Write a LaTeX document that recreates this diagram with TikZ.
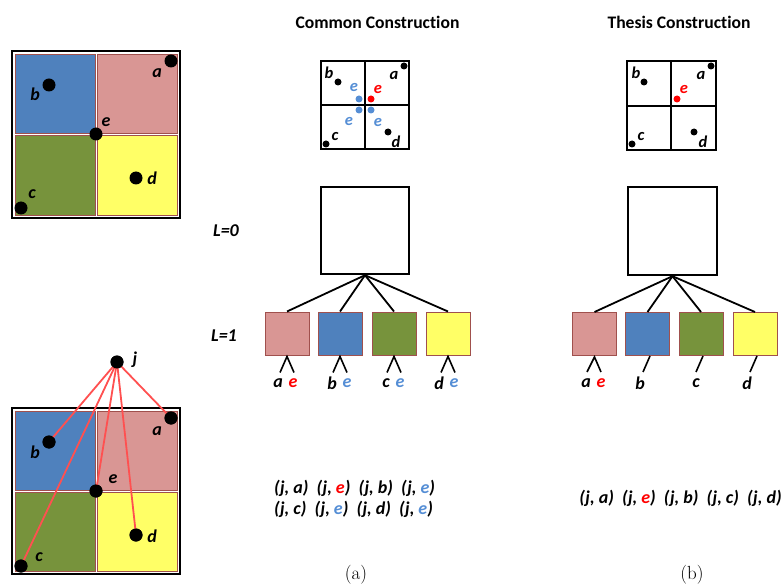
\documentclass[tikz,border=0pt]{standalone}
\usepackage{fontspec}
\newfontfamily\carl[Ligatures=NoCommon]{Carlito}
\definecolor{qblue}{HTML}{4F81BD}
\definecolor{qpink}{HTML}{D99694}
\definecolor{qgreen}{HTML}{77933C}
\definecolor{qyellow}{HTML}{FFFF66}
\definecolor{qedge}{HTML}{A0504D}
\definecolor{eblue}{HTML}{558ED5}
\definecolor{ered}{HTML}{FF0000}
\definecolor{jline}{HTML}{FF5050}
\tikzset{
  dotbig/.style={circle,fill=black,inner sep=0pt,minimum size=13pt},
  dotsmall/.style={circle,fill=#1,inner sep=0pt,minimum size=7pt},
  dotsmall/.default=black,
  lab/.style={font=\carl\bfseries\itshape\fontsize{18}{18}\selectfont,inner sep=0pt},
  slab/.style={font=\carl\bfseries\itshape\fontsize{16.5}{16.5}\selectfont,inner sep=0pt},
  titletext/.style={font=\carl\bfseries\fontsize{17.6}{17.6}\selectfont,inner sep=0pt},
  captext/.style={font=\fontsize{19}{19}\selectfont,inner sep=0pt},
  quad/.style={draw=qedge,line width=0.8pt},
  outerbox/.style={draw=black,line width=2.6pt},
  gridline/.style={draw=black,line width=1.8pt},
  rootbox/.style={draw=black,line width=2.4pt,minimum width=88pt,minimum height=87pt,inner sep=0pt},
  childbox/.style={draw=qedge,line width=1pt,minimum width=44pt,minimum height=43pt,inner sep=0pt},
  conn/.style={draw=black,line width=1.8pt},
  jl/.style={draw=jline,line width=1.8pt}
}
\begin{document}
\begin{tikzpicture}[x=1pt,y=-1pt]
\useasboundingbox (0,0) rectangle (784,585);
% ---------- top-left square ----------
\draw[outerbox] (12,51) rectangle (180,218);
\filldraw[quad,fill=qblue] (15,54) rectangle (95,133);
\filldraw[quad,fill=qpink] (97,54) rectangle (177,133);
\filldraw[quad,fill=qgreen] (15,135) rectangle (95,215);
\filldraw[quad,fill=qyellow] (97,135) rectangle (177,215);
\node[dotbig] (ta) at (171,61) {};
\node[dotbig] (tb) at (49,85) {};
\node[dotbig] (te) at (96,134) {};
\node[dotbig] (td) at (136,178) {};
\node[dotbig] (tc) at (21,208) {};
\node[lab] (tal) at (157,73) {a};
\node[lab] (tbl) at (35,94) {b};
\node[lab] (tel) at (106,122) {e};
\node[lab] (tdl) at (152,178) {d};
\node[lab] (tcl) at (32,194) {c};
% ---------- bottom-left square ----------
\draw[outerbox] (12,408) rectangle (180,574);
\filldraw[quad,fill=qblue] (15,411) rectangle (95,490);
\filldraw[quad,fill=qpink] (97,411) rectangle (177,490);
\filldraw[quad,fill=qgreen] (15,492) rectangle (95,571);
\filldraw[quad,fill=qyellow] (97,492) rectangle (177,571);
\node[dotbig] (bj) at (117,362) {};
\node[dotbig] (ba) at (171,418) {};
\node[dotbig] (bb) at (49,442) {};
\node[dotbig] (be) at (96,491) {};
\node[dotbig] (bd) at (136,535) {};
\node[dotbig] (bc) at (21,566) {};
\foreach \t in {ba,bb,be,bd,bc} \draw[jl] (bj.center) -- (\t.center);
\foreach \t in {bj,ba,bb,be,bd,bc} \node[dotbig] at (\t) {};
\node[lab] (bjl) at (135,360) {j};
\node[lab] (bal) at (157,431) {a};
\node[lab] (bbl) at (35,452) {b};
\node[lab] (bel) at (113,479) {e};
\node[lab] (bdl) at (152,536) {d};
\node[lab] (bcl) at (39,557) {c};
% ---------- titles ----------
\node[titletext] (t1) at (377.5,22) {Common Construction};
\node[titletext] (t2) at (679,22) {Thesis Construction};
% ---------- common grid ----------
\draw[gridline] (321,61) rectangle (409,149);
\draw[gridline] (365,61) -- (365,149);
\draw[gridline] (321,105) -- (409,105);
\node[dotsmall] (ca) at (404,66) {};
\node[dotsmall] (cb) at (338,82) {};
\node[dotsmall] (cc) at (326,144) {};
\node[dotsmall] (cd) at (388,132) {};
\node[dotsmall=ered] (ce) at (371,99) {};
\node[dotsmall=eblue] (ce1) at (359,99) {};
\node[dotsmall=eblue] (ce2) at (359,110) {};
\node[dotsmall=eblue] (ce3) at (371,110) {};
\node[slab] (cal) at (394,76) {a};
\node[slab] (cbl) at (329,73) {b};
\node[slab] (ccl) at (335,137) {c};
\node[slab] (cdl) at (396,142) {d};
\node[slab,text=ered] (cel) at (378,90) {e};
\node[slab,text=eblue] (ce1l) at (354,88) {e};
\node[slab,text=eblue] (ce2l) at (349,122) {e};
\node[slab,text=eblue] (ce3l) at (378,123) {e};
% ---------- thesis grid ----------
\draw[gridline] (627,61) rectangle (716,150);
\draw[gridline] (671,61) -- (671,150);
\draw[gridline] (627,106) -- (716,106);
\node[dotsmall] (sa) at (711,66) {};
\node[dotsmall] (sb) at (644,82) {};
\node[dotsmall] (sc) at (632,144) {};
\node[dotsmall] (sd) at (694,132) {};
\node[dotsmall=ered] (se) at (677,99) {};
\node[slab] (sal) at (701,76) {a};
\node[slab] (sbl) at (636,73) {b};
\node[slab] (scl) at (641,137) {c};
\node[slab] (sdl) at (703,142) {d};
\node[slab,text=ered] (sel) at (684,90) {e};
% ---------- level labels ----------
\node[lab] (l0) at (226,231) {L=0};
\node[lab] (l1) at (224,336) {L=1};
% ---------- common tree ----------
\node[rootbox] (cr) at (365,230.5) {};
\node[childbox,fill=qpink] (c1) at (287,333.5) {};
\node[childbox,fill=qblue] (c2) at (340,333.5) {};
\node[childbox,fill=qgreen] (c3) at (394,333.5) {};
\node[childbox,fill=qyellow] (c4) at (448,333.5) {};
\foreach \k in {c1,c2,c3,c4} {
  \draw[conn] (cr.south) -- (\k.north);
  \coordinate (\k l) at ([xshift=-7pt,yshift=-17pt]\k.south);
  \coordinate (\k r) at ([xshift=7pt,yshift=-17pt]\k.south);
  \draw[conn,line width=1.6pt] (\k l) -- ([yshift=-1pt]\k.south) -- (\k r);
}
\node[lab] (c1a) at (278,383) {a};
\node[lab,text=ered] (c1e) at (293,383) {e};
\node[lab] (c2a) at (332,383) {b};
\node[lab,text=eblue] (c2e) at (347,383) {e};
\node[lab] (c3a) at (386,383) {c};
\node[lab,text=eblue] (c3e) at (400,383) {e};
\node[lab] (c4a) at (439,383) {d};
\node[lab,text=eblue] (c4e) at (454,383) {e};
% ---------- thesis tree ----------
\node[rootbox,minimum width=89pt,minimum height=88pt] (sr) at (672.5,231) {};
\node[childbox,fill=qpink] (s1) at (594.5,334) {};
\node[childbox,fill=qblue] (s2) at (647.5,334) {};
\node[childbox,fill=qgreen] (s3) at (701,334) {};
\node[childbox,fill=qyellow] (s4) at (755,334) {};
\foreach \k in {s1,s2,s3,s4} \draw[conn] (sr.south) -- (\k.north);
\coordinate (s1l) at (587,372);
\coordinate (s1r) at (601,372);
\draw[conn,line width=1.6pt] (s1l) -- ([yshift=-1pt]s1.south) -- (s1r);
\coordinate (s2l) at (643,372);
\coordinate (s3l) at (696,372);
\coordinate (s4l) at (750,372);
\draw[conn,line width=1.6pt] ([xshift=2.5pt]s2.south) -- (s2l);
\draw[conn,line width=1.6pt] ([xshift=2pt]s3.south) -- (s3l);
\draw[conn,line width=1.6pt] ([xshift=2pt]s4.south) -- (s4l);
\node[lab] (s1a) at (586,383) {a};
\node[lab,text=ered] (s1e) at (601,383) {e};
\node[lab] (s2a) at (640,383) {b};
\node[lab] (s3a) at (696,383) {c};
\node[lab] (s4a) at (747,383) {d};
% ---------- pair lists ----------
\node[lab] (p1) at (354.5,488) {(j, a)\ \ (j, \textcolor{ered}{e})\ \ (j, b)\ \ (j, \textcolor{eblue}{e})};
\node[lab] (p2) at (353.5,509) {(j, c)\ \ (j, \textcolor{eblue}{e})\ \ (j, d)\ \ (j, \textcolor{eblue}{e})};
\node[lab] (p3) at (680.5,498) {(j, a)\ \ (j, \textcolor{ered}{e})\ \ (j, b)\ \ (j, c)\ \ (j, d)};
\node[captext] (capa) at (356,575) {(a)};
\node[captext] (capb) at (692,575) {(b)};
\end{tikzpicture}
\end{document}
